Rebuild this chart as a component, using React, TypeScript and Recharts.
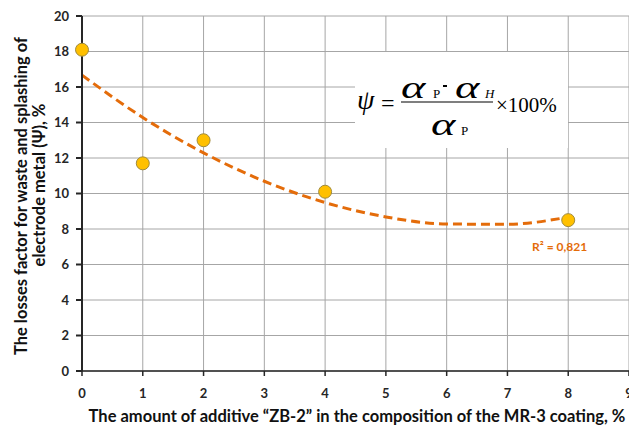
import React from "react";
import {
  ComposedChart,
  Scatter,
  Line,
  XAxis,
  YAxis,
  CartesianGrid,
} from "recharts";

const additiveX = [0, 1, 2, 4, 8];
const lossesY = [18.1, 11.7, 13.0, 10.1, 8.5];

// polynomial trend line as drawn
const trendX = [0, 1, 2, 3, 4, 5, 6, 7, 8];
const trendY = [16.67, 14.28, 12.29, 10.69, 9.49, 8.68, 8.28, 8.27, 8.67];

const xTicks = [0, 1, 2, 3, 4, 5, 6, 7, 8, 9];
const yTicks = [0, 2, 4, 6, 8, 10, 12, 14, 16, 18, 20];

const points = additiveX.map((x, i) => ({ x, y: lossesY[i] }));
const trend = trendX.map((x, i) => ({ x, y: trendY[i] }));

const ORANGE = "#e46c0a";
const FONT = "Lato, 'Liberation Sans', sans-serif";
const SERIF = "'Liberation Serif', 'DejaVu Serif', serif";

// wide italic alpha like the equation editor one
function Alpha({ x, y }: { x: number; y: number }) {
  return (
    <text transform={`translate(${x},${y}) scale(1.45,1)`} fontSize={32} fontStyle="italic">
      α
    </text>
  );
}

function Overlay() {
  return (
    <svg
      width={629}
      height={429}
      style={{ position: "absolute", left: 0, top: 0, pointerEvents: "none" }}
    >
      <rect x={355} y={52} width={213} height={96} fill="#ffffff" />
      <g fontFamily={SERIF} fill="#000">
        <text x={357} y={109} fontSize={28} fontStyle="italic">ψ</text>
        <text x={381} y={111} fontSize={24}>=</text>
        <Alpha x={401} y={98} />
        <text x={433} y={98} fontSize={13}>P</text>
        <rect x={443} y={85} width={4} height={2} fill="#000" />
        <Alpha x={455} y={98} />
        <text x={485} y={98} fontSize={13} fontStyle="italic">H</text>
        <line x1={401} y1={102} x2={493} y2={102} stroke="#000" strokeWidth={1.2} />
        <Alpha x={431} y={135} />
        <text x={461} y={135} fontSize={13}>P</text>
        <text x={496} y={112} fontSize={21}>×100%</text>
      </g>
      <text
        x={532}
        y={251}
        fontFamily={FONT}
        fontSize={12}
        fontWeight={700}
        fill={ORANGE}
      >
        R² = 0,821
      </text>
      <g fontFamily={FONT} fontSize={16.5} fontWeight={700} fill="#111" textAnchor="middle">
        <text transform="translate(27,196) rotate(-90)">
          The losses factor for waste and splashing of
        </text>
        <text transform="translate(45,185) rotate(-90)">electrode metal (Ψ), %</text>
        <text x={357} y={422}>
          The amount of additive “ZB-2” in the composition of the MR-3 coating, %
        </text>
      </g>
    </svg>
  );
}

export default function App() {
  return (
    <div
      style={{
        position: "absolute",
        left: 0,
        top: 0,
        width: 629,
        height: 429,
        overflow: "hidden",
        background: "#ffffff",
      }}
    >
      <ComposedChart
        width={640}
        height={429}
        margin={{ top: 16, right: 11, bottom: 28, left: 0 }}
      >
        <CartesianGrid stroke="#a6a6a6" strokeWidth={1} />
        <XAxis
          dataKey="x"
          type="number"
          domain={[0, 9]}
          ticks={xTicks}
          height={30}
          stroke="#262626"
          strokeWidth={1.5}
          tickSize={5}
          tick={{ fill: "#262626", fontSize: 13, fontWeight: 700, fontFamily: FONT }}
          tickMargin={13}
        />
        <YAxis
          type="number"
          domain={[0, 20]}
          ticks={yTicks}
          width={82}
          stroke="#262626"
          strokeWidth={2}
          tickSize={6}
          tick={{ fill: "#262626", fontSize: 13, fontWeight: 700, fontFamily: FONT }}
          tickMargin={7}
        />
        <Line
          data={trend}
          dataKey="y"
          type="monotone"
          stroke={ORANGE}
          strokeWidth={3}
          strokeDasharray="9 5"
          dot={false}
          activeDot={false}
          isAnimationActive={false}
        />
        <Scatter
          data={points}
          dataKey="y"
          fill="#ffc000"
          isAnimationActive={false}
          shape={(p: any) => (
            <circle cx={p.cx} cy={p.cy} r={6.5} fill="#ffc000" stroke="#a08a3c" strokeWidth={1} />
          )}
        />
      </ComposedChart>
      <Overlay />
    </div>
  );
}
